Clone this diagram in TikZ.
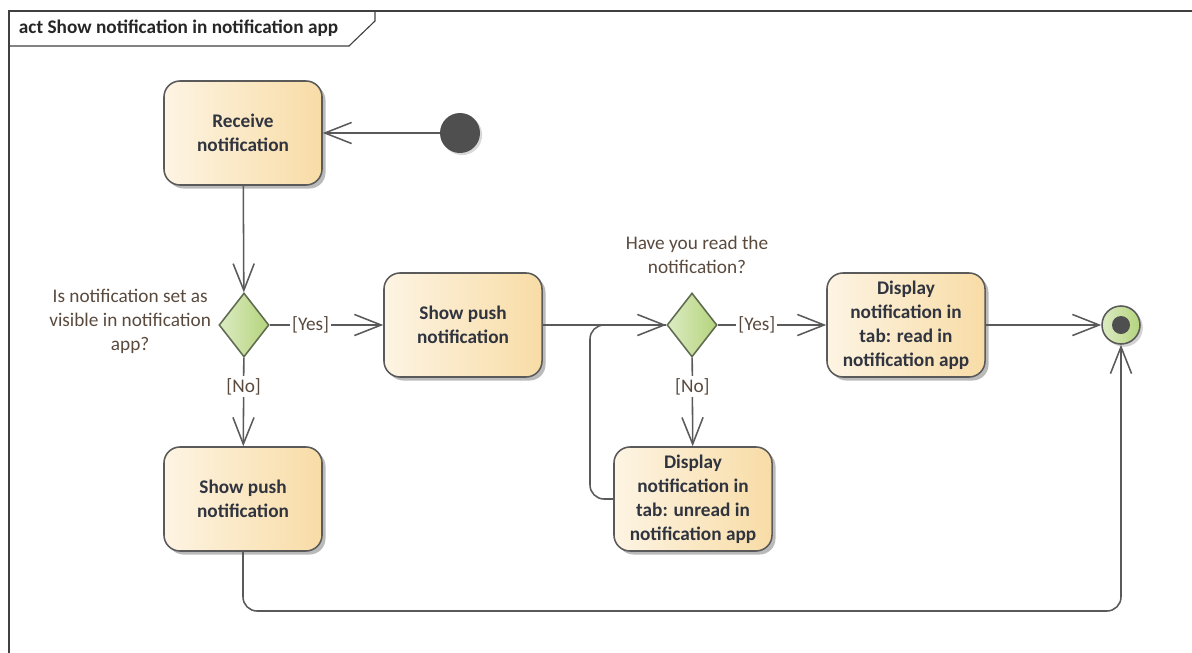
\documentclass[tikz,border=0pt]{standalone}
\usepackage{fontspec}
\setmainfont{Carlito}
\usetikzlibrary{arrows.meta,shapes.geometric,shadows}
\definecolor{EdgeGrey}{HTML}{5A5A5A}
\definecolor{BoxLight}{HTML}{FDF4E3}
\definecolor{BoxDeep}{HTML}{F8DCA6}
\definecolor{LeafLight}{HTML}{DCEBC3}
\definecolor{LeafDeep}{HTML}{B4D47C}
\definecolor{LeafEdge}{HTML}{5E6B50}
\definecolor{InkDark}{HTML}{30343F}
\definecolor{InkBrown}{HTML}{5A4A3E}
\definecolor{DotGrey}{HTML}{4F4F4F}
\tikzset{
  actbox/.style={rounded corners=0.4cm, draw=EdgeGrey, line width=1.1pt, left color=BoxLight, right color=BoxDeep, align=center, minimum width=3.95cm, minimum height=2.6cm, text=InkDark, font=\bfseries\fontsize{13.7}{17}\selectfont, drop shadow={shadow xshift=2.5pt, shadow yshift=-2.5pt, fill=black!45, opacity=0.6}},
  decision/.style={diamond, draw=LeafEdge, line width=1.1pt, left color=LeafLight, right color=LeafDeep, minimum width=1.25cm, minimum height=1.6cm, inner sep=0pt},
  startdot/.style={circle, fill=DotGrey, minimum size=1cm, inner sep=0pt, drop shadow={shadow xshift=1.5pt, shadow yshift=-1.5pt, fill=black!30, opacity=0.5}},
  endring/.style={circle, draw=EdgeGrey, line width=1.1pt, left color=LeafLight, right color=LeafDeep, minimum size=0.95cm, inner sep=0pt, drop shadow={shadow xshift=2pt, shadow yshift=-2pt, fill=black!35, opacity=0.5}},
  enddot/.style={circle, fill=DotGrey, minimum size=0.45cm, inner sep=0pt},
  note/.style={align=center, text=InkBrown, font=\fontsize{13.7}{17}\selectfont},
  guard/.style={fill=white, inner sep=1.5pt, text=InkBrown, font=\fontsize{13.7}{17}\selectfont},
  line/.style={draw=EdgeGrey, line width=1.1pt},
  flow/.style={line, -{Straight Barb[length=19pt, width=15pt, line width=1.1pt]}}
}
\begin{document}
\begin{tikzpicture}[x=0.025cm, y=-0.025cm]
  \useasboundingbox (0,0) rectangle (1192,652);
  % frame and title tab
  \draw[line width=0.8pt, draw=black!75] (9,665) -- (9,11) -- (1205,11);
  \draw[line width=0.8pt, draw=black!75] (9,46) -- (349,46) -- (375,21) -- (375,11);
  \node[anchor=west, text=black!85, font=\bfseries\fontsize{13.7}{17}\selectfont] (title) at (14,28) {act Show notification in notification app};

  % nodes
  \node[actbox] (receive) at (243,133) {Receive\\notification};
  \node[startdot] (start) at (460,133) {};
  \node[decision] (visible) at (244,325) {};
  \node[note, anchor=east] (visq) at (216,321) {Is notification set as\\visible in notification\\app?};
  \node[actbox] (pushtop) at (463,325) {Show push\\notification};
  \node[actbox] (pushlow) at (243,499) {Show push\\notification};
  \node[decision] (read) at (692,325) {};
  \node[note] (readq) at (697,255) {Have you read the\\notification?};
  \node[actbox] (shown) at (906,325) {Display\\notification in\\tab: read in\\notification app};
  \node[actbox] (unread) at (693,499) {Display\\notification in\\tab: unread in\\notification app};
  \node[endring] (final) at (1121,325) {};
  \node[enddot] (finaldot) at (final.center) {};
  \coordinate (loopx) at (590,499);
  \coordinate (busy) at (0,611);

  % flows
  \draw[flow] (start) -- (receive);
  \draw[flow] (receive) -- (visible);
  \draw[flow] (visible) -- node[guard, pos=0.36] {[Yes]} (pushtop);
  \draw[flow] (visible) -- node[guard, pos=0.33] {[No]} (pushlow);
  \draw[flow] (pushtop) -- (read);
  \draw[flow] (read) -- node[guard, pos=0.36] {[Yes]} (shown);
  \draw[flow] (read) -- node[guard, pos=0.33] {[No]} (unread);
  \draw[line, rounded corners=10pt] (unread.west) -| (loopx |- read.west) -- (read.west);
  \draw[flow] (shown) -- (final);
  \draw[flow, rounded corners=10pt] (pushlow.south) |- (busy -| final) -- (final.south);
\end{tikzpicture}
\end{document}
